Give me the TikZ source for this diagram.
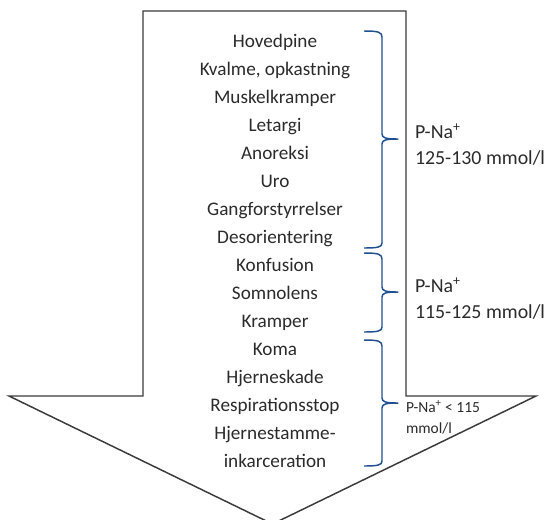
\documentclass[tikz,border=0pt]{standalone}
\usepackage{fontspec}
\setmainfont{Carlito}
\definecolor{c1f5091}{RGB}{31,80,145}
\definecolor{c3a3a3a}{RGB}{58,58,58}
\definecolor{c2b2b2b}{RGB}{43,43,43}
\tikzset{
  symptom/.style={anchor=base, text=c2b2b2b, font=\fontsize{14.4}{17}\selectfont},
  level/.style={anchor=base west, text=c2b2b2b, font=\fontsize{14.9}{17}\selectfont},
  smalllevel/.style={anchor=base west, text=c2b2b2b, font=\fontsize{11.6}{14}\selectfont},
  bracket/.style={draw=c1f5091, line width=1.1pt, line join=round}
}

\begin{document}
\begin{tikzpicture}[y=0.75pt, x=0.75pt, yscale=-1, inner sep=0pt, outer sep=0pt]
  \useasboundingbox (0,0) rectangle (552,519);
  \clip (0,0) rectangle (552,519);
  % the big arrow
  \path[draw=c3a3a3a,line join=miter,line width=1.1pt]
    (143,11) -- (406,11) -- (406,396) -- (536,396) -- (272.5,524)
    -- (9,396) -- (143,396) -- cycle;
  % symptoms
  \foreach \txt [count=\i] in {Hovedpine,{Kvalme, opkastning},Muskelkramper,
    Letargi,Anoreksi,Uro,Gangforstyrrelser,Desorientering,Konfusion,Somnolens,
    Kramper,Koma,Hjerneskade,Respirationsstop,Hjernestamme-,inkarceration}
    \path (275,{47+28*(\i-1)}) node[symptom] (sym\i) {\txt};
  % braces
  \path[bracket] (364,31) .. controls (378,31) and (382,32) .. (382,37)
    -- (382,134) .. controls (382,138) and (386,139) .. (398,139)
    .. controls (386,139) and (382,140) .. (382,144)
    -- (382,243) .. controls (382,247) and (378,248) .. (364,248);
  \path[bracket] (364,253) .. controls (378,253) and (382,254) .. (382,259)
    -- (382,287) .. controls (382,291) and (386,292) .. (398,292)
    .. controls (386,292) and (382,293) .. (382,297)
    -- (382,327) .. controls (382,331) and (378,332) .. (364,332);
  \path[bracket] (364,340) .. controls (378,340) and (382,341) .. (382,346)
    -- (382,398) .. controls (382,402) and (386,403) .. (398,403)
    .. controls (386,403) and (382,404) .. (382,408)
    -- (382,461) .. controls (382,465) and (378,466) .. (364,466);
  % sodium levels
  \path (415,138) node[level] (lvl1a) {P-Na\textsuperscript{+}};
  \path (415,164) node[level] (lvl1b) {125-130 mmol/l};
  \path (415,292) node[level] (lvl2a) {P-Na\textsuperscript{+}};
  \path (415,318) node[level] (lvl2b) {115-125 mmol/l};
  \path (406,412) node[smalllevel] (lvl3a) {P-Na\textsuperscript{+} < 115};
  \path (406,433) node[smalllevel] (lvl3b) {mmol/l};
\end{tikzpicture}
\end{document}
